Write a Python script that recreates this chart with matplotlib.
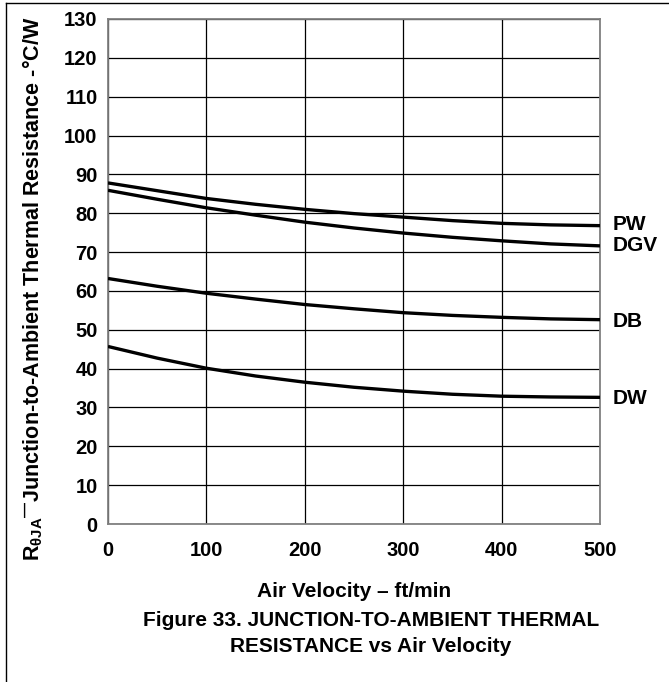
import numpy as np
import matplotlib
matplotlib.use("Agg")
import matplotlib.pyplot as plt
from matplotlib.lines import Line2D

plt.rcParams['font.family'] = ['Liberation Sans', 'DejaVu Sans']
plt.rcParams['font.weight'] = 'bold'
plt.rcParams['mathtext.fontset'] = 'custom'
plt.rcParams['mathtext.rm'] = 'Liberation Sans:bold'
plt.rcParams['mathtext.it'] = 'Liberation Sans:bold'
plt.rcParams['mathtext.bf'] = 'Liberation Sans:bold'
plt.rcParams['mathtext.default'] = 'regular'

# air velocity (ft/min)
velocity = [0, 50, 100, 150, 200, 250, 300, 350, 400, 450, 500]
# thermal resistance (°C/W)
pw = [87.8, 85.8, 83.8, 82.3, 81.0, 79.9, 79.0, 78.1, 77.4, 77.0, 76.8]
dgv = [85.9, 83.6, 81.4, 79.5, 77.7, 76.2, 74.9, 73.8, 72.9, 72.1, 71.6]
db = [63.2, 61.2, 59.4, 57.9, 56.5, 55.4, 54.4, 53.7, 53.2, 52.8, 52.6]
dw = [45.7, 42.7, 40.1, 38.1, 36.5, 35.2, 34.2, 33.4, 32.9, 32.7, 32.6]
series_names = ['PW', 'DGV', 'DB', 'DW']
label_y = [77.0, 71.8, 52.1, 32.4]  # where the name sits

x_ticks = [0, 100, 200, 300, 400, 500]
y_ticks = list(range(0, 131, 10))

fig = plt.figure(figsize=(6.69, 6.82), dpi=100)
ax = fig.add_axes([108 / 669, 1 - 524 / 682, 492 / 669, 505 / 682])

for vals in [pw, dgv, db, dw]:
    ax.plot(velocity, vals, color='black', lw=2.4, solid_capstyle='butt', zorder=3)

for name, yv in zip(series_names, label_y):
    ax.text(513, yv, name, fontsize=15, fontweight='bold', va='center', ha='left',
            clip_on=False)

ax.set_xlim(0, 500)
ax.set_ylim(0, 130)
ax.set_xticks(x_ticks)
ax.set_yticks(y_ticks)
ax.grid(True, color='black', lw=0.9)
ax.tick_params(length=0, labelsize=14.5)
ax.tick_params(axis='x', pad=12)
ax.tick_params(axis='y', pad=7.5)
for lab in ax.get_xticklabels() + ax.get_yticklabels():
    lab.set_fontweight('bold')
for s in ax.spines.values():
    s.set_color('#808080')
    s.set_linewidth(1.3)

ax.set_xlabel('Air Velocity – ft/min', fontsize=15, fontweight='bold', labelpad=16)
ax.set_ylabel(r'R$_{θJA}$$^{—}$Junction-to-Ambient Thermal Resistance -°C/W',
              fontsize=15.5, fontweight='bold')
ax.yaxis.set_label_coords(-(108 - 45) / 492, 0.465)

fig.text(371 / 669, 1 - 620 / 682, 'Figure 33. JUNCTION-TO-AMBIENT THERMAL',
         ha='center', va='center', fontsize=15, fontweight='bold')
fig.text(371 / 669, 1 - 647 / 682, 'RESISTANCE vs Air Velocity',
         ha='center', va='center', fontsize=15, fontweight='bold')

# frame of the figure box
fig.add_artist(Line2D([6 / 669, 1], [1 - 3 / 682, 1 - 3 / 682], color='black', lw=1))
fig.add_artist(Line2D([6 / 669, 6 / 669], [0, 1 - 3 / 682], color='black', lw=1))

fig.savefig('out.png', dpi=100)
